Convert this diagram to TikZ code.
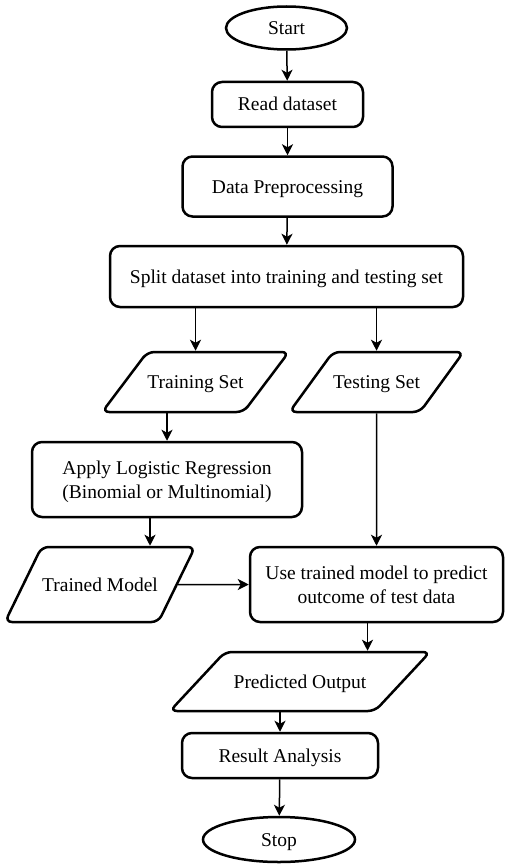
\documentclass[tikz,border=0pt]{standalone}
\usepackage{fontspec}
\setmainfont{Liberation Serif}
\usetikzlibrary{shapes.geometric,arrows.meta}
\tikzset{every node/.style={font=\fontsize{19.5}{24}\selectfont, align=center, inner sep=0pt,
		text height=13pt, text depth=0pt},
	terminal/.style={draw, ellipse, line width=2.5pt},
	process/.style={draw, rectangle, rounded corners=10pt, line width=2.5pt},
	iobox/.style={draw, trapezium, trapezium left angle=#1, trapezium right angle=180-#1,
		trapezium stretches body, rounded corners=7pt, line width=2.5pt},
	flow/.style={line width=1.5pt, -{Stealth[length=11pt,width=11pt,inset=3pt]}}}

\begin{document}
\begin{tikzpicture}[x=1pt,y=-1pt]
		\useasboundingbox (0,0) rectangle (506,864);
		\node[terminal, minimum width=121pt, minimum height=43pt] (start) at (286.5,28) {Start};
		\node[process, minimum width=151pt, minimum height=45pt] (read) at (287.5,104.5) {Read dataset};
		\node[process, minimum width=210pt, minimum height=60pt] (prep) at (287.5,186.5) {Data Preprocessing};
		\node[process, minimum width=353pt, minimum height=61pt] (split) at (286.5,276.5) {Split dataset into training and testing set};
		\node[iobox=53, inner ysep=23.5pt, minimum width=175pt] (train) at (195.5,382) {Training Set};
		\node[iobox=54, inner ysep=23.5pt, minimum width=173pt] (test) at (376.5,382) {Testing Set};
		\node[process, text height={}, minimum width=270pt, minimum height=75pt] (apply) at (167,479.5) {Apply Logistic Regression\\(Binomial or Multinomial)};
		\node[iobox=64, inner ysep=31pt, minimum width=190pt] (model) at (100,584.5) {Trained Model};
		\node[process, text height={}, minimum width=253pt, minimum height=75pt] (use) at (376.5,584.5) {Use trained model to predict\\outcome of test data};
		\node[iobox=47, inner ysep=23pt, minimum width=260pt] (pred) at (300,681.5) {Predicted Output};
		\node[process, minimum width=196pt, minimum height=45pt] (result) at (280,755.5) {Result Analysis};
		\node[terminal, minimum width=152pt, minimum height=45pt] (stop) at (279,839.5) {Stop};
		
		\draw[flow] (start) -- (read);
		\draw[flow] (read) -- (prep);
		\draw[flow] (prep) -- (split);
		\draw[flow] (split.south -| train.north) -- (train.north);
		\draw[flow] (split.south -| test.north) -- (test.north);
		\draw[flow] (train.south -| apply.north) -- (apply.north);
		\draw[flow] ([xshift=-17pt]apply.south) -- ([xshift=-17pt]apply.south |- model.north);
		\draw[flow] (test.south) -- (use.north);
		\draw[flow] (model.east) -- (use.west);
		\draw[flow] ([xshift=-9pt]use.south) -- ([xshift=-9pt]use.south |- pred.north);
		\draw[flow] (pred.south -| result.north) -- (result.north);
		\draw[flow] (result) -- (stop);
		\end{tikzpicture}
\end{document}
